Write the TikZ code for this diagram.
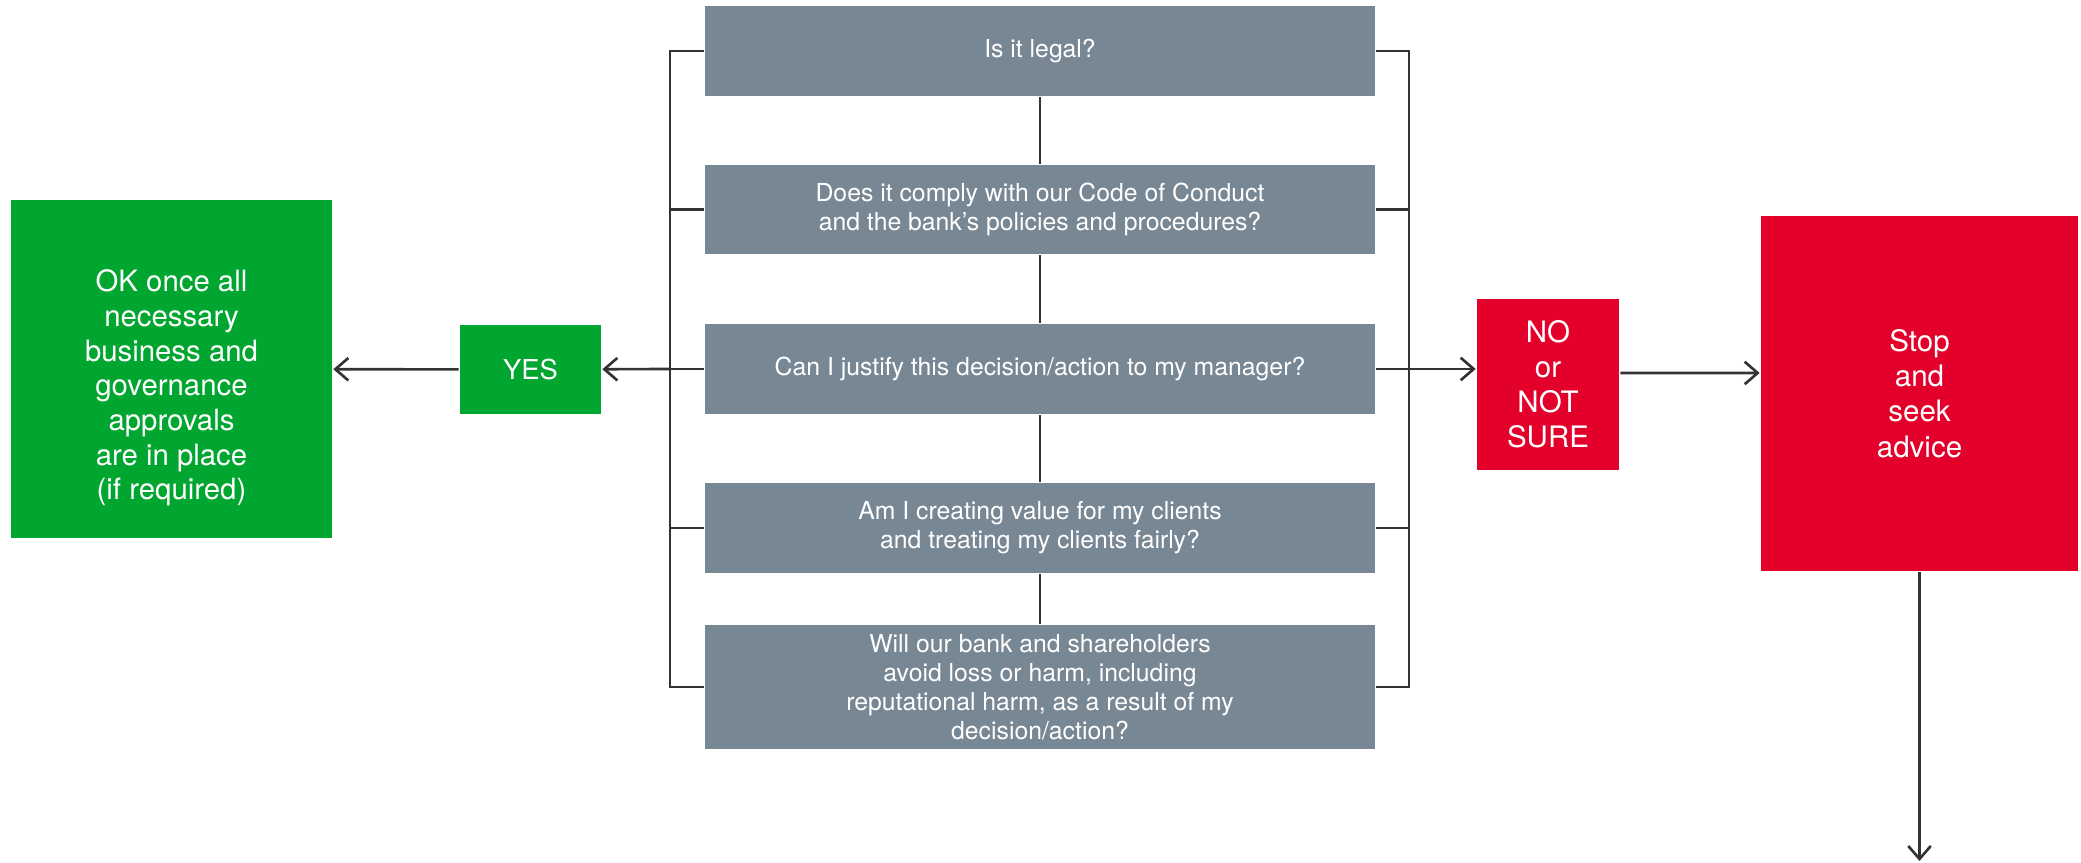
\documentclass[tikz,border=0pt]{standalone}
\usepackage{fontspec}
\setmainfont{TeX Gyre Heros}
\usetikzlibrary{arrows.meta}
\definecolor{qgray}{RGB}{120,135,148}
\definecolor{okgreen}{RGB}{0,166,47}
\definecolor{stopred}{RGB}{227,0,43}
\definecolor{wirecol}{RGB}{51,51,51}

\begin{document}
\begin{tikzpicture}[>={Straight Barb[length=3.7pt,width=6.4pt]},line width=0.75pt,color=wirecol]
\tikzstyle{box}=[rectangle,inner sep=0pt,text=white,align=center]
\tikzstyle{qbox}=[box,fill=qgray,minimum width=6.7cm,minimum height=#1,font=\fontsize{7.05}{8.3}\selectfont]
\tikzstyle{okbox}=[box,fill=okgreen,minimum width=3.21cm,minimum height=3.38cm,font=\fontsize{8.35}{9.85}\selectfont]
\tikzstyle{yesbox}=[box,fill=okgreen,minimum width=1.41cm,minimum height=0.89cm,font=\fontsize{7.8}{9}\selectfont]
\tikzstyle{redbox}=[box,fill=stopred,minimum width=#1,font=\fontsize{8.4}{10}\selectfont]
\useasboundingbox (0,0) rectangle (20.81,8.63);

\node[qbox=0.9cm](g1) at (10.40,8.12) {Is it legal?};
\node[qbox=0.89cm](g2) at (10.40,6.535) {Does it comply with our Code of Conduct\\and the bank’s policies and procedures?};
\node[qbox=0.9cm](g3) at (10.40,4.94) {Can I justify this decision/action to my manager?};
\node[qbox=0.9cm](g4) at (10.40,3.35) {Am I creating value for my clients\\and treating my clients fairly?};
\node[qbox=1.24cm](g5) at (10.40,1.76) {Will our bank and shareholders\\avoid loss or harm, including\\reputational harm, as a result of my\\decision/action?};

\node[okbox](ok) at (1.715,4.94) {\rule{0pt}{0.6cm}OK once all\\necessary\\business and\\governance\\approvals\\are in place\\(if required)};
\node[yesbox](yes) at (5.305,4.935) {YES};
\node[redbox=1.42cm,minimum height=1.71cm](no) at (15.48,4.785) {NO\\or\\NOT\\SURE};
\node[redbox=3.17cm,minimum height=3.55cm](stop) at (19.195,4.695) {Stop\\and\\seek\\advice};

\coordinate (lb) at (6.70,4.94);
\coordinate (rb) at (14.09,4.94);
\coordinate (out) at (19.195,0.02);

% spine
\draw (g1) -- (g2);
\draw (g2) -- (g3);
\draw (g3) -- (g4);
\draw (g4) -- (g5);

% brackets
\draw (g1.west) -| (lb |- g5.west) -- (g5.west);
\draw (g1.east) -| (rb |- g5.east) -- (g5.east);
\foreach \n in {g2,g3,g4}{
  \draw (\n.west) -- (lb |- \n.west);
  \draw (\n.east) -- (rb |- \n.east);
}

\draw[->] (lb) -- (yes);
\draw[->] (yes) -- (ok);
\draw[->] (rb) -- (no.west |- rb);
\draw[->] ([yshift=1.15mm]no.east) -- ([yshift=2.05mm]stop.west);
\draw[->] (stop) -- (out);
\end{tikzpicture}
\end{document}
